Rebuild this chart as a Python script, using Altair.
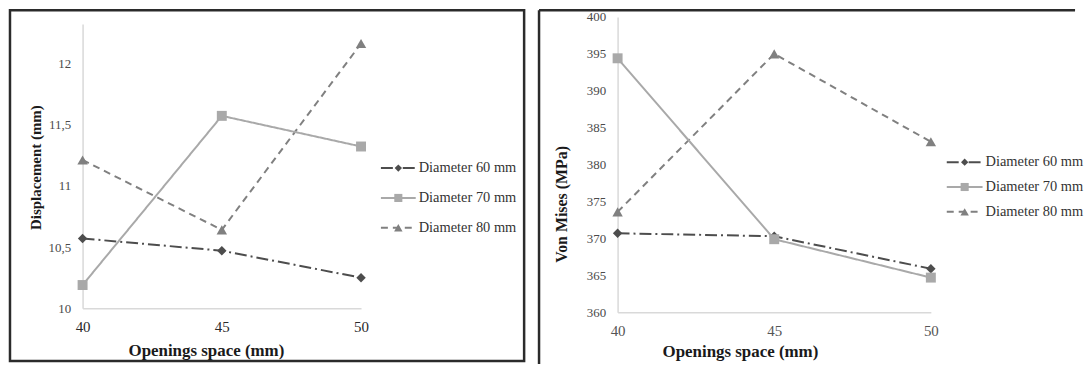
import altair as alt
import pandas as pd

# ---- data ----
openings = [40, 45, 50]
series = ["Diameter 60 mm", "Diameter 70 mm", "Diameter 80 mm"]

disp_d60 = [10.57, 10.47, 10.25]
disp_d70 = [10.19, 11.57, 11.32]
disp_d80 = [11.21, 10.64, 12.16]

vm_d60 = [370.7, 370.3, 365.9]
vm_d70 = [394.4, 369.9, 364.7]
vm_d80 = [373.6, 395.0, 383.1]

disp_ticks = [10, 10.5, 11, 11.5, 12]
vm_ticks = [360, 365, 370, 375, 380, 385, 390, 395, 400]

colors = ["#4d4d4d", "#a9a9a9", "#808080"]
dashes = [[12, 4, 2, 4], [1, 0], [7, 5]]
shapes = ["diamond", "square", "triangle-up"]
sizes = [90, 110, 120]

FONT = "Liberation Serif"


def make_df(vals_list):
    rows = []
    for s, vals in zip(series, vals_list):
        for x, v in zip(openings, vals):
            rows.append({"opening": x, "value": v, "series": s})
    # draw order: 80, 60, 70 (70 on top)
    order = {series[2]: 0, series[0]: 1, series[1]: 2}
    df = pd.DataFrame(rows)
    df["ord"] = df["series"].map(order)
    return df.sort_values(["ord", "opening"]).reset_index(drop=True)


color_scale = alt.Scale(domain=series, range=colors)
dash_scale = alt.Scale(domain=series, range=dashes)
shape_scale = alt.Scale(domain=series, range=shapes)
size_scale = alt.Scale(domain=series, range=sizes)

one = pd.DataFrame({"k": [0]})


def panel(df, ydom, yrange, yticks, width, height, ytitle, ytx, yty, ytsize,
          xtx, xty, label_expr, xlabel_color, leg_x0, leg_x1, leg_tx, leg_rows,
          frame_layers):
    x = alt.X("opening:Q",
              scale=alt.Scale(domain=[40, 50], nice=False, zero=False),
              axis=alt.Axis(values=openings, title="Openings space (mm)",
                            titleFont=FONT, titleFontSize=17, titleFontWeight="bold",
                            titleColor="#1a1a1a", titleX=xtx, titleY=xty,
                            titleBaseline="middle",
                            labelFont=FONT, labelFontSize=15, labelColor=xlabel_color,
                            labelPadding=11, labelFlush=False,
                            ticks=False, grid=False,
                            domainColor="#d9d9d9", domainWidth=1.5))
    yaxis_kwargs = dict(values=yticks, title=ytitle,
                        titleFont=FONT, titleFontSize=ytsize, titleFontWeight="bold",
                        titleColor="#1a1a1a", titleX=ytx, titleY=yty, titleAngle=270,
                        titleBaseline="middle", titleAlign="center",
                        labelFont=FONT, labelFontSize=13, labelColor="#4a4a4a",
                        labelPadding=12, labelFlush=False,
                        ticks=False, grid=False,
                        domainColor="#d9d9d9", domainWidth=1.5)
    if label_expr:
        yaxis_kwargs["labelExpr"] = label_expr
    y = alt.Y("value:Q", scale=alt.Scale(domain=ydom, range=yrange, nice=False, zero=False),
              axis=alt.Axis(**yaxis_kwargs))

    base = alt.Chart(df)
    lines = base.mark_line(strokeWidth=2).encode(
        x=x, y=y,
        color=alt.Color("series:N", scale=color_scale, legend=None),
        strokeDash=alt.StrokeDash("series:N", scale=dash_scale, legend=None),
        order=alt.Order("opening:Q"),
    )
    pts = base.mark_point(filled=True, opacity=1).encode(
        x=x, y=y,
        color=alt.Color("series:N", scale=color_scale, legend=None),
        shape=alt.Shape("series:N", scale=shape_scale, legend=None),
        size=alt.Size("series:N", scale=size_scale, legend=None),
    )
    layers = [lines, pts]

    # manual legend (line + marker + label)
    mid = (leg_x0 + leg_x1) / 2
    for i, s in enumerate(series):
        yy = leg_rows[i]
        layers.append(alt.Chart(one).mark_rule(color=colors[i], strokeWidth=2,
                                               strokeDash=dashes[i]).encode(
            x=alt.value(leg_x0), x2=alt.value(leg_x1), y=alt.value(yy)))
        layers.append(alt.Chart(one).mark_point(shape=shapes[i], filled=True, opacity=1,
                                                color=colors[i], size=sizes[i] * 0.6).encode(
            x=alt.value(mid), y=alt.value(yy)))
        layers.append(alt.Chart(one).mark_text(align="left", baseline="middle", font=FONT,
                                               fontSize=14.5, color="#333333").encode(
            x=alt.value(leg_tx), y=alt.value(yy), text=alt.value(s)))

    layers.extend(frame_layers)
    return alt.layer(*layers).properties(width=width, height=height)


FRAME = "#2b2b2b"

left_frame = [
    alt.Chart(one).mark_rect(fillOpacity=0, stroke=FRAME, strokeWidth=2.5).encode(
        x=alt.value(-73), x2=alt.value(444), y=alt.value(-6.75), y2=alt.value(346))
]
right_frame = [
    alt.Chart(one).mark_rule(color=FRAME, strokeWidth=2.5).encode(
        x=alt.value(-79), x2=alt.value(460), y=alt.value(-6.75)),
    alt.Chart(one).mark_rule(color=FRAME, strokeWidth=2.5).encode(
        x=alt.value(-79), y=alt.value(-6.75), y2=alt.value(349)),
]

left = panel(make_df([disp_d60, disp_d70, disp_d80]), [10, 12.32], [293, 7], disp_ticks,
             280, 293,
             "Displacement (mm)", -47, 151, 15, 124, 42,
             "replace(format(datum.value, '~g'), '.', ',')", "#2a2a2a",
             300, 335, 338, [152, 182, 212], left_frame)

right = panel(make_df([vm_d60, vm_d70, vm_d80]), [360, 400], [297, 0], vm_ticks,
              315, 297,
              "Von Mises (MPa)", -56, 188, 16, 123, 39,
              None, "#555555",
              331, 367, 370, [146, 171, 196], right_frame)

chart = alt.hconcat(left, right, spacing=11).properties(
    padding=0, background="white"
).configure_view(stroke=None)

chart.save("out.html", embed_options={"renderer": "svg", "actions": False})
